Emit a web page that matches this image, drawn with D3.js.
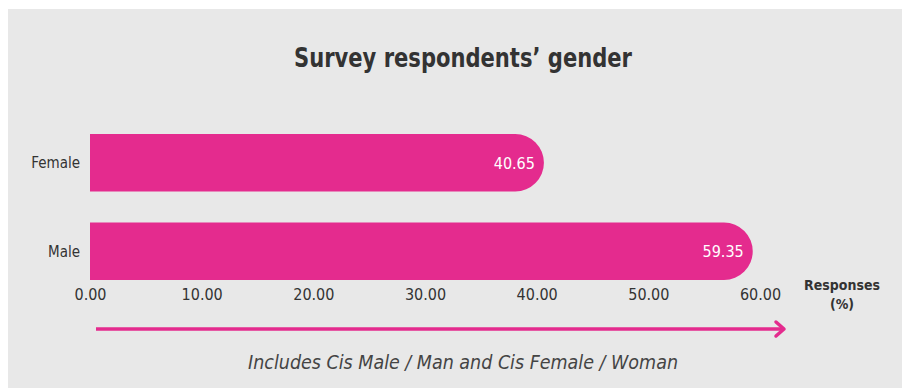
<!DOCTYPE html>
<html>
<head>
<meta charset="utf-8">
<script src="https://cdn.jsdelivr.net/npm/d3@7"></script>
<style>
  html, body { margin: 0; padding: 0; background: #ffffff; }
  svg { display: block; }
  .cond { font-family: "Liberation Sans Narrow", "DejaVu Sans Condensed", "Roboto", sans-serif; }
</style>
</head>
<body>
<svg id="chart" width="905" height="388"></svg>
<script>
// Survey data
const categories = ["Female", "Male"];
const values = [40.65, 59.35];
const tickValues = [0, 10, 20, 30, 40, 50, 60];

const title = "Survey respondents\u2019 gender";
const axisTitle = ["Responses", "(%)"];
const note = "Includes Cis Male / Man and Cis Female / Woman";

const W = 905, H = 388;
const pink = "#e42b8e";
const bg = "#e8e8e8";
const ink = "#333333";

const svg = d3.select("#chart");

// panel background
svg.append("rect")
  .attr("x", 8).attr("y", 9)
  .attr("width", 894).attr("height", H - 9)
  .attr("fill", bg);

// title (compressed horizontally for a condensed look)
svg.append("text")
  .attr("class", "cond")
  .attr("x", 463).attr("y", 67)
  .attr("text-anchor", "middle")
  .attr("font-size", 27)
  .attr("font-weight", 700)
  .attr("fill", ink)
  .attr("textLength", 338)
  .attr("lengthAdjust", "spacingAndGlyphs")
  .text(title);

const x = d3.scaleLinear().domain([0, 60]).range([90, 760]);
const y = d3.scaleBand().domain(categories).range([119, 295]).paddingInner(0.352).paddingOuter(0.17);

const bh = y.bandwidth();

// bars: square left end, fully rounded right end
function barPath(v, cat) {
  const x0 = x(0), x1 = x(v), y0 = y(cat), h = bh, r = h / 2;
  return `M${x0},${y0} H${x1 - r} A${r},${r} 0 0 1 ${x1 - r},${y0 + h} H${x0} Z`;
}
const rows = categories.map((c, i) => ({ cat: c, val: values[i] }));

svg.append("g").selectAll("path")
  .data(rows).join("path")
  .attr("d", d => barPath(d.val, d.cat))
  .attr("fill", pink);

// value labels inside bar ends
svg.append("g").selectAll("text")
  .data(rows).join("text")
  .attr("class", "cond")
  .attr("x", d => x(d.val) - 9)
  .attr("y", d => y(d.cat) + bh / 2 + 6)
  .attr("text-anchor", "end")
  .attr("font-size", 16)
  .attr("fill", "#ffffff")
  .text(d => d.val.toFixed(2));

// category labels
const yAxis = d3.axisLeft(y).tickSize(0).tickPadding(10);
const gy = svg.append("g").attr("transform", `translate(${x(0)},0)`).call(yAxis);
gy.select(".domain").remove();
gy.selectAll("text")
  .attr("class", "cond")
  .attr("font-size", 15)
  .attr("fill", ink)
  .attr("dy", "0.35em");

// x axis tick labels
const xAxis = d3.axisBottom(x).tickValues(tickValues).tickSize(0).tickPadding(0).tickFormat(d3.format(".2f"));
const gx = svg.append("g").attr("transform", `translate(0,289)`).call(xAxis);
gx.select(".domain").remove();
gx.selectAll("text")
  .attr("class", "cond")
  .attr("font-size", 16)
  .attr("fill", ink)
  .attr("dy", "0.71em");

// axis title
svg.append("text")
  .attr("class", "cond")
  .attr("x", 842).attr("y", 290)
  .attr("text-anchor", "middle")
  .attr("font-size", 14)
  .attr("font-weight", 700)
  .attr("fill", ink)
  .selectAll("tspan").data(axisTitle).join("tspan")
  .attr("x", 842)
  .attr("dy", (d, i) => i === 0 ? 0 : 19)
  .text(d => d);

// direction arrow
svg.append("line")
  .attr("x1", 96).attr("x2", 782)
  .attr("y1", 329).attr("y2", 329)
  .attr("stroke", pink).attr("stroke-width", 3.5);
svg.append("path")
  .attr("d", "M776,322 L784,329 L776,336")
  .attr("fill", "none")
  .attr("stroke", pink)
  .attr("stroke-width", 3.5)
  .attr("stroke-linecap", "round")
  .attr("stroke-linejoin", "round");

// footnote
svg.append("text")
  .attr("class", "cond")
  .attr("x", 463).attr("y", 369)
  .attr("text-anchor", "middle")
  .attr("font-size", 20)
  .attr("font-style", "italic")
  .attr("fill", "#444444")
  .attr("textLength", 430)
  .attr("lengthAdjust", "spacingAndGlyphs")
  .text(note);
</script>
</body>
</html>
